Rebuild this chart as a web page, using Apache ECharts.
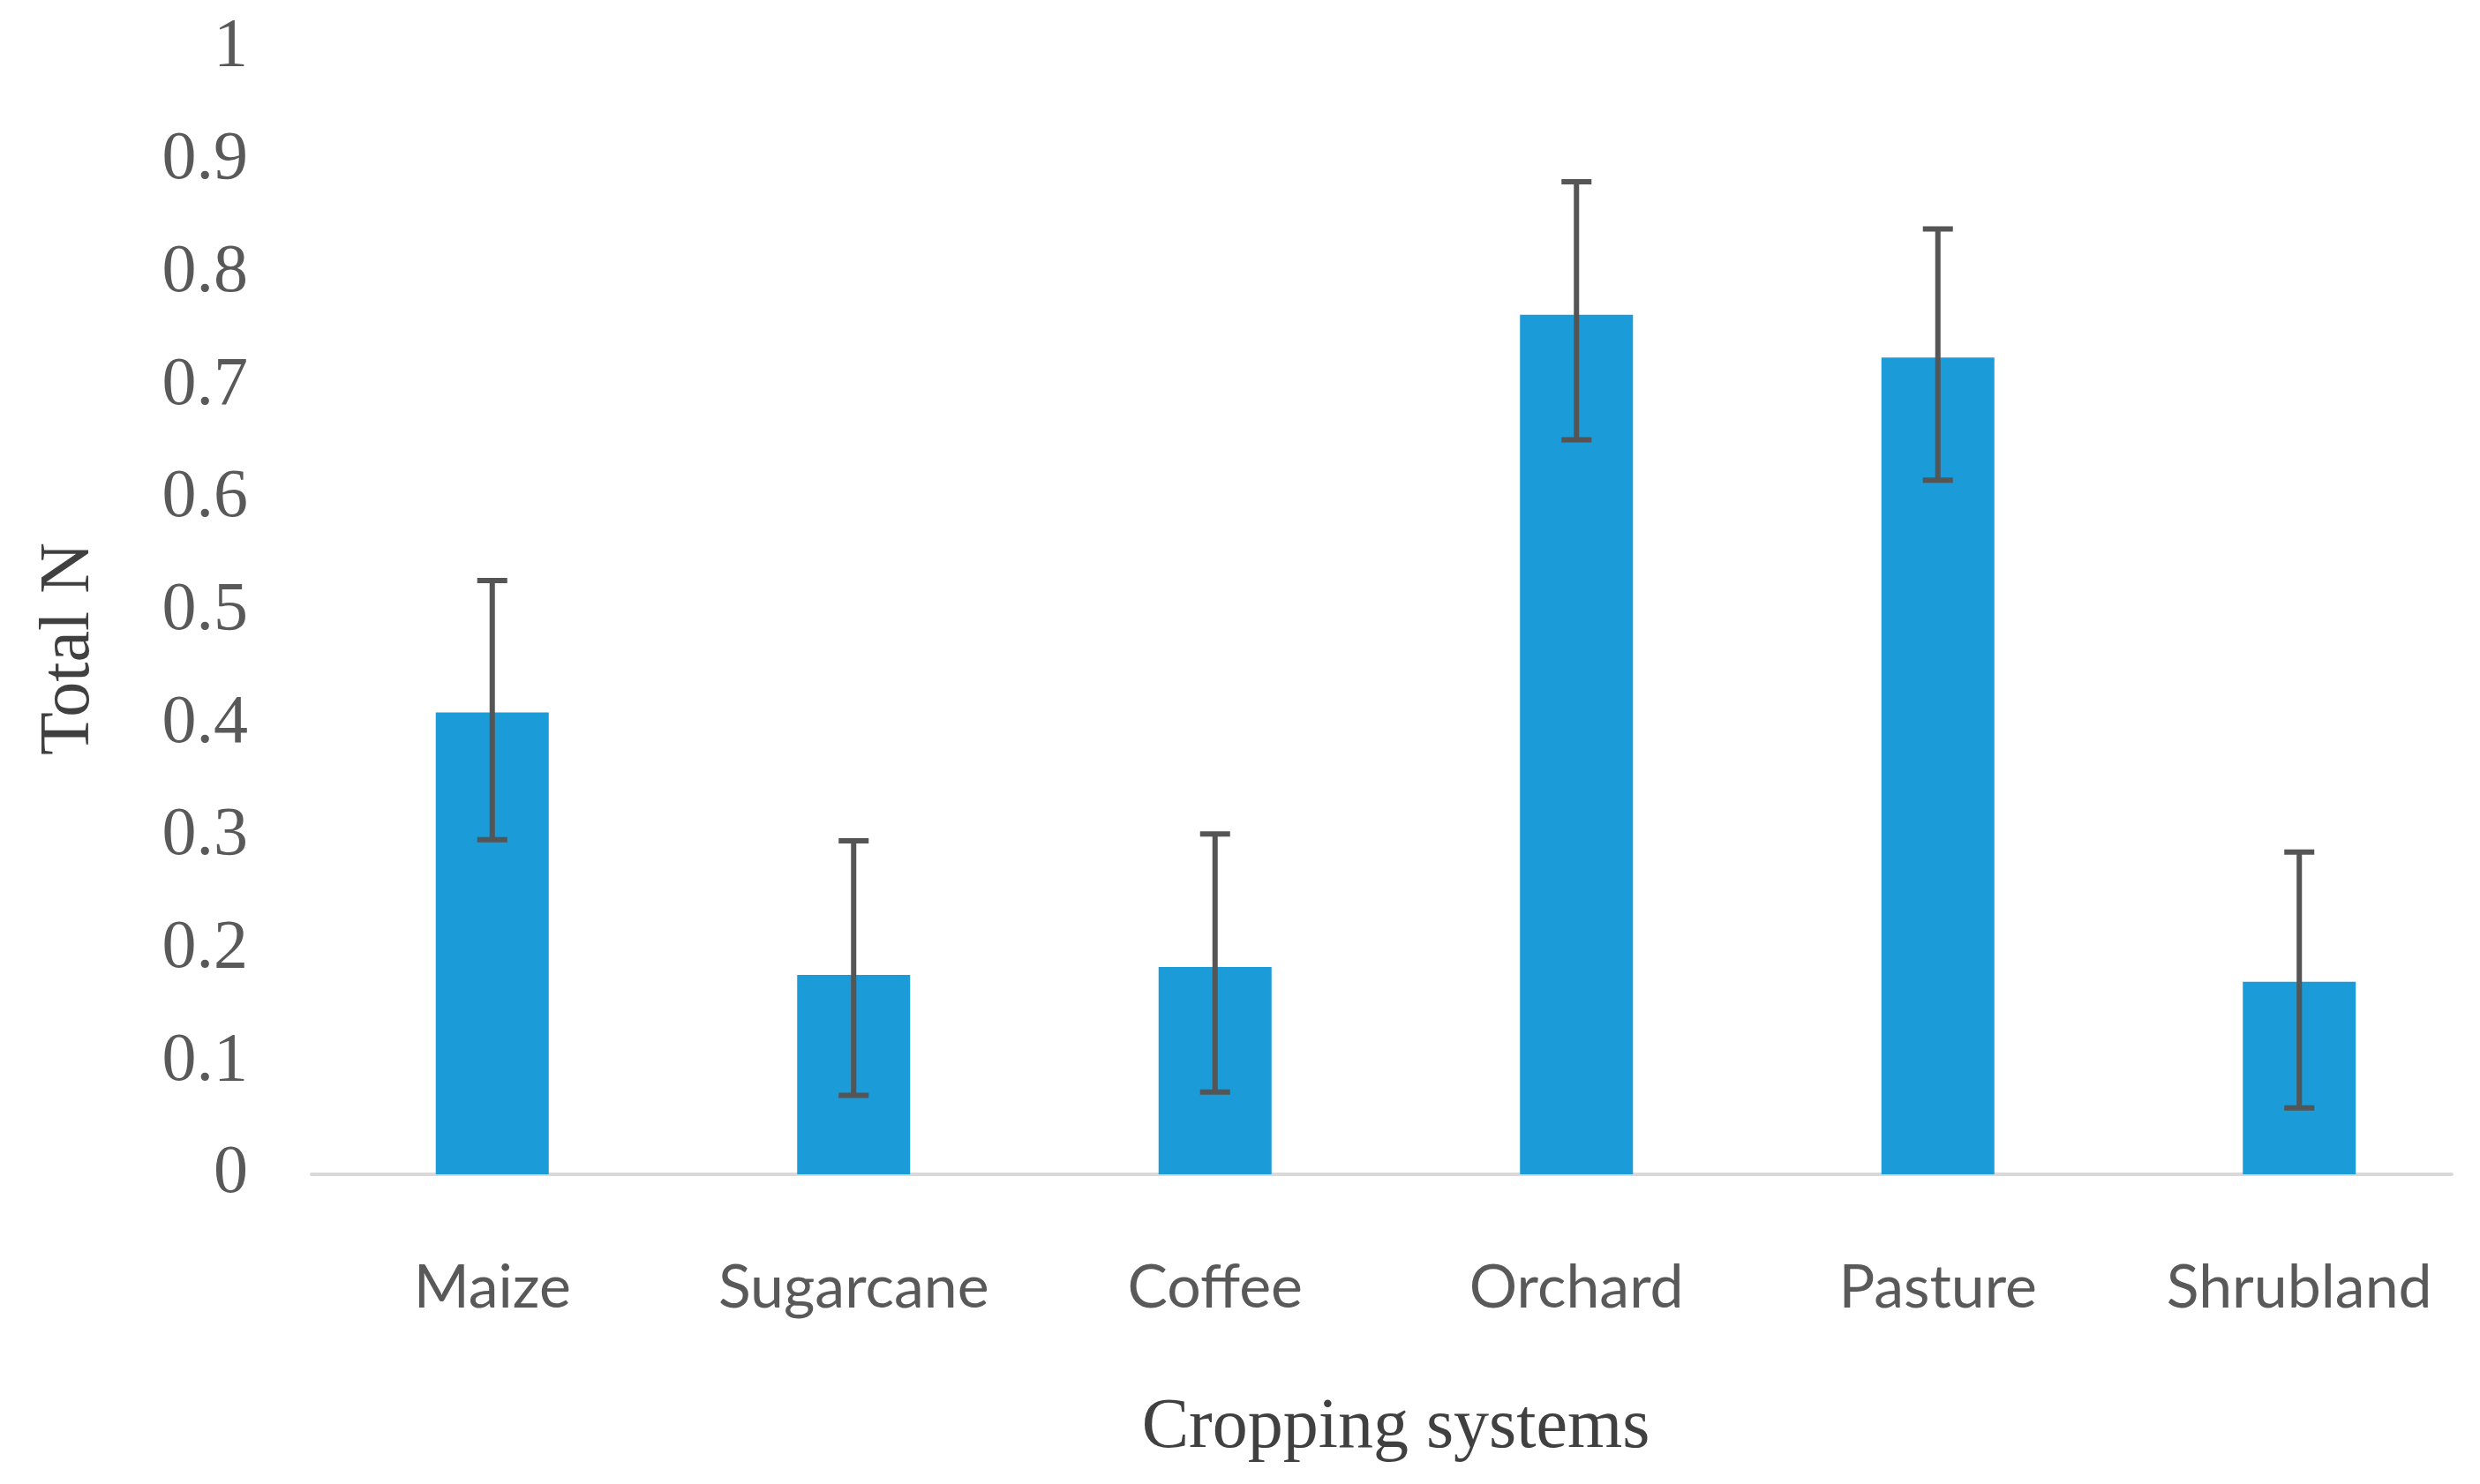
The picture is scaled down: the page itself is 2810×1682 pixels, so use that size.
<!DOCTYPE html>
<html>
<head>
<meta charset="utf-8">
<script src="https://cdn.jsdelivr.net/npm/echarts@6/dist/echarts.min.js"></script>
<style>
html,body{margin:0;padding:0;background:#fff;}
#chart{width:2810px;height:1682px;}
</style>
</head>
<body>
<div id="chart"></div>
<script>
const categories = ['Maize', 'Sugarcane', 'Coffee', 'Orchard', 'Pasture', 'Shrubland'];
const totalN = [0.41, 0.177, 0.184, 0.763, 0.725, 0.171];
const errLower = [0.297, 0.070, 0.073, 0.652, 0.616, 0.059];
const errUpper = [0.527, 0.296, 0.302, 0.881, 0.839, 0.286];
const yTicks = { min: 0, max: 1, interval: 0.1 };

const errData = categories.map((c, i) => [i, errLower[i], errUpper[i]]);

const chart = echarts.init(document.getElementById('chart'));
chart.setOption({
  animation: false,
  backgroundColor: '#ffffff',
  grid: [
    { left: 353, top: 54, right: -17, bottom: 351, containLabel: false },
    { left: 353, top: 54, right: 32, bottom: 351, containLabel: false }
  ],
  xAxis: [
    {
      type: 'category',
      gridIndex: 0,
      data: categories,
      boundaryGap: true,
      axisLine: { show: false },
      axisTick: { show: false },
      axisLabel: { margin: 95, color: '#595959', fontFamily: 'Lato', fontSize: 68 },
      name: 'Cropping systems',
      nameLocation: 'middle',
      nameGap: 248,
      nameTextStyle: { color: '#404040', fontFamily: 'Liberation Serif', fontSize: 80 }
    },
    {
      type: 'value',
      gridIndex: 1,
      min: 0,
      max: 1,
      axisLine: { show: true, lineStyle: { color: '#d9d9d9', width: 4 } },
      axisTick: { show: false },
      axisLabel: { show: false },
      splitLine: { show: false },
      z: 0
    }
  ],
  yAxis: [
    {
      type: 'value',
      gridIndex: 0,
      min: yTicks.min,
      max: yTicks.max,
      interval: yTicks.interval,
      axisLine: { show: false },
      axisTick: { show: false },
      splitLine: { show: false },
      axisLabel: { margin: 72, color: '#595959', fontFamily: 'Liberation Serif', fontSize: 78 },
      name: 'Total N',
      nameLocation: 'middle',
      nameGap: 234,
      nameTextStyle: { color: '#404040', fontFamily: 'Liberation Serif', fontSize: 80, padding: [0, 86, 0, 0] }
    },
    {
      type: 'value',
      gridIndex: 1,
      min: 0,
      max: 1,
      show: false
    }
  ],
  series: [
    {
      type: 'bar',
      xAxisIndex: 0,
      yAxisIndex: 0,
      data: totalN,
      barWidth: 128,
      z: 2,
      itemStyle: { color: '#1b9bd7' }
    },
    {
      type: 'custom',
      xAxisIndex: 0,
      yAxisIndex: 0,
      data: errData,
      z: 10,
      renderItem: function (params, api) {
        const x = api.value(0);
        const lo = api.coord([x, api.value(1)]);
        const hi = api.coord([x, api.value(2)]);
        const half = 17;
        const style = { stroke: '#555555', lineWidth: 6 };
        return {
          type: 'group',
          children: [
            { type: 'line', shape: { x1: hi[0], y1: hi[1], x2: lo[0], y2: lo[1] }, style: style },
            { type: 'line', shape: { x1: hi[0] - half, y1: hi[1], x2: hi[0] + half, y2: hi[1] }, style: style },
            { type: 'line', shape: { x1: lo[0] - half, y1: lo[1], x2: lo[0] + half, y2: lo[1] }, style: style }
          ]
        };
      }
    }
  ]
});
</script>
</body>
</html>
